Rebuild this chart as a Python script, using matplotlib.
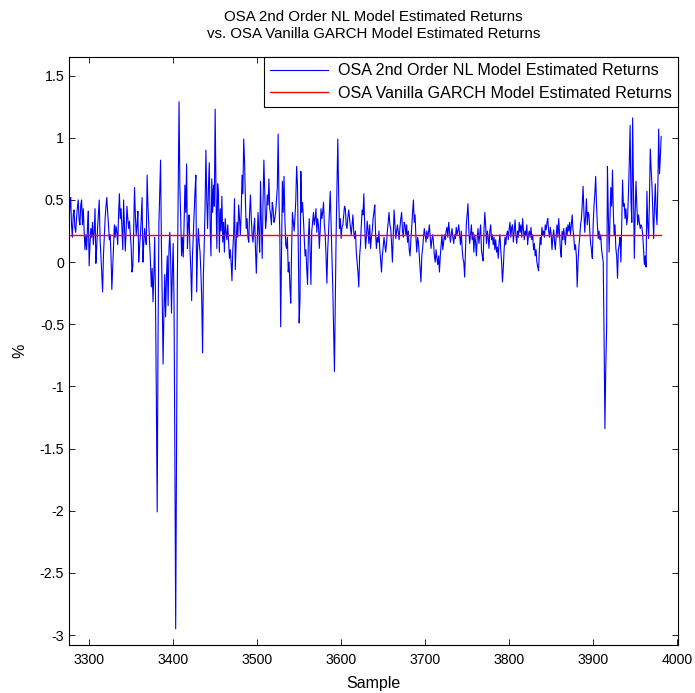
import numpy as np
import matplotlib
matplotlib.use("Agg")
import matplotlib.pyplot as plt

plt.rcParams['font.family'] = ['Liberation Sans', 'DejaVu Sans']
plt.rcParams['axes.unicode_minus'] = False

start_sample = 3276
nl_returns = [
    0.30, 0.45, 0.52, 0.30, 0.20, 0.38, 0.42, 0.28, 0.24, 0.36,
    0.44, 0.50, 0.34, 0.30, 0.46, 0.50, 0.30, 0.43, 0.25, 0.10,
    0.22, 0.10, 0.28, 0.41, -0.03, 0.15, 0.27, 0.20, 0.32, 0.14,
    0.25, 0.43, -0.01, 0.12, 0.27, 0.38, 0.50, 0.18, 0.05, -0.10,
    -0.24, 0.05, 0.20, 0.35, 0.45, 0.52, 0.40, 0.30, 0.18, 0.22,
    0.05, -0.22, -0.06, 0.12, 0.30, 0.20, 0.29, 0.24, 0.14, 0.38,
    0.55, 0.35, 0.43, 0.28, 0.10, 0.50, 0.30, 0.09, 0.25, 0.45,
    0.35, 0.27, 0.33, 0.22, 0.12, -0.08, -0.03, 0.25, 0.60, 0.38,
    0.22, 0.30, 0.41, 0.00, 0.12, 0.22, 0.35, 0.52, 0.00, 0.15,
    0.27, 0.20, 0.14, 0.70, 0.45, 0.30, 0.15, 0.00, -0.20, -0.05,
    -0.32, -0.10, 0.20, -0.30, -1.10, -2.01, -0.60, 0.30, 0.55, 0.82,
    0.15, -0.30, -0.82, -0.40, -0.10, -0.44, -0.13, 0.05, -0.35, 0.10,
    0.24, 0.03, -0.41, -0.10, 0.15, -0.30, -1.50, -2.95, -1.55, -0.15,
    0.55, 1.29, 0.60, 0.35, 0.05, 0.20, 0.04, 0.30, 0.62, 0.40,
    0.79, 0.11, 0.30, 0.38, 0.10, -0.05, -0.31, 0.05, 0.22, 0.40,
    0.57, 0.70, -0.24, 0.10, 0.27, 0.15, 0.08, -0.08, -0.30, -0.73,
    -0.10, 0.14, 0.45, 0.90, 0.50, 0.27, 0.60, 0.80, 0.30, 0.05,
    0.67, 0.40, 0.62, 0.45, 1.23, 0.55, 0.11, 0.63, 0.54, 0.08,
    0.43, 0.25, 0.53, 0.16, 0.32, 0.08, 0.35, 0.24, 0.18, 0.30,
    0.16, 0.03, 0.10, 0.00, -0.15, 0.10, 0.22, 0.51, -0.06, 0.15,
    0.32, 0.20, 0.46, 0.35, 0.22, 0.40, 0.70, 0.55, 0.99, 0.81,
    0.50, 0.27, 0.35, 0.20, 0.16, 0.40, 0.54, 0.35, 0.22, 0.16,
    0.28, 0.35, 0.10, -0.09, 0.15, 0.40, 0.25, 0.08, 0.65, 0.30,
    0.03, 0.48, 0.82, 0.57, 0.27, 0.35, 0.54, 0.46, 0.67, 0.43,
    0.38, 0.30, 0.48, 0.43, 0.32, 0.35, 0.40, 0.50, 0.60, 1.03,
    0.50, 0.22, -0.52, 0.10, 0.65, 0.40, 0.69, 0.35, 0.14, 0.11,
    0.20, -0.08, 0.00, -0.20, -0.33, 0.10, 0.40, 0.32, 0.25, 0.36,
    0.50, 0.77, 0.62, 0.10, -0.49, -0.30, 0.73, 0.40, 0.48, 0.36,
    0.20, 0.05, 0.10, -0.05, -0.18, 0.20, 0.35, 0.10, -0.18, 0.25,
    0.32, 0.40, 0.30, 0.35, 0.43, 0.24, 0.35, 0.30, 0.11, 0.25,
    0.43, 0.35, 0.40, 0.48, 0.30, 0.22, 0.05, -0.17, 0.10, 0.24,
    0.40, 0.57, 0.30, 0.05, -0.20, -0.55, -0.88, -0.30, 0.22, 0.60,
    0.99, 0.55, 0.27, 0.35, 0.19, 0.28, 0.30, 0.38, 0.45, 0.43,
    0.30, 0.27, 0.36, 0.42, 0.35, 0.28, 0.22, 0.30, 0.38, 0.24,
    0.19, 0.25, 0.08, 0.00, -0.08, -0.20, 0.05, 0.14, 0.30, 0.42,
    0.38, 0.55, 0.30, 0.11, 0.20, 0.33, 0.26, 0.15, 0.30, 0.11,
    0.20, 0.25, 0.35, 0.40, 0.46, 0.22, 0.11, 0.20, 0.16, 0.25,
    0.10, 0.02, -0.08, 0.05, 0.12, 0.20, 0.14, 0.08, 0.15, 0.25,
    0.32, 0.40, 0.30, 0.27, 0.15, 0.00, 0.20, 0.42, 0.30, 0.19,
    0.25, 0.30, 0.24, 0.18, 0.28, 0.35, 0.40, 0.25, 0.20, 0.32,
    0.30, 0.22, 0.30, 0.16, 0.25, 0.10, 0.05, 0.18, 0.28, 0.40,
    0.50, 0.32, 0.38, 0.20, 0.08, 0.20, 0.16, 0.05, -0.05, -0.16,
    0.05, 0.11, 0.20, 0.27, 0.22, 0.16, 0.25, 0.19, 0.24, 0.30,
    0.20, 0.11, 0.18, 0.22, 0.15, 0.05, 0.00, 0.10, 0.03, -0.02,
    0.05, -0.08, 0.05, 0.14, 0.22, 0.10, 0.16, 0.22, 0.18, 0.25,
    0.28, 0.20, 0.32, 0.25, 0.16, 0.22, 0.27, 0.20, 0.15, 0.22,
    0.19, 0.28, 0.22, 0.25, 0.30, 0.22, 0.14, 0.25, 0.11, 0.03,
    0.00, -0.12, 0.10, 0.30, 0.38, 0.47, 0.25, 0.15, 0.22, 0.30,
    0.18, 0.24, 0.08, 0.22, 0.16, 0.05, 0.20, 0.27, 0.15, 0.22,
    0.30, 0.10, 0.05, 0.01, 0.25, 0.40, 0.30, 0.15, 0.25, 0.20,
    0.11, 0.25, 0.30, 0.18, 0.22, 0.14, 0.20, 0.10, 0.18, 0.08,
    0.12, 0.03, 0.16, 0.22, 0.10, 0.00, -0.16, -0.05, 0.10, 0.20,
    0.14, 0.22, 0.25, 0.18, 0.27, 0.32, 0.20, 0.28, 0.30, 0.16,
    0.25, 0.34, 0.22, 0.15, 0.25, 0.20, 0.32, 0.24, 0.30, 0.20,
    0.35, 0.27, 0.18, 0.25, 0.22, 0.30, 0.14, 0.22, 0.25, 0.20,
    0.28, 0.18, 0.22, 0.10, 0.15, 0.05, 0.10, 0.00, -0.04, -0.07,
    0.10, 0.20, 0.14, 0.28, 0.22, 0.25, 0.20, 0.30, 0.26, 0.32,
    0.35, 0.25, 0.20, 0.28, 0.22, 0.10, 0.20, 0.26, 0.16, 0.10,
    0.22, 0.30, 0.20, 0.35, 0.22, 0.10, 0.04, 0.25, 0.18, 0.27,
    0.20, 0.14, 0.28, 0.22, 0.30, 0.25, 0.32, 0.22, 0.30, 0.38,
    0.26, 0.20, 0.10, 0.14, 0.05, -0.20, 0.00, 0.12, 0.20, 0.30,
    0.35, 0.46, 0.61, 0.40, 0.24, 0.38, 0.51, 0.30, 0.40, 0.38,
    0.25, 0.15, 0.10, 0.03, 0.30, 0.45, 0.55, 0.69, 0.46, 0.30,
    0.19, 0.25, 0.18, 0.22, 0.10, 0.05, 0.00, -0.60, -1.34, -0.85,
    -0.55, 0.77, 0.40, 0.08, 0.35, 0.60, 0.45, 0.74, 0.40, 0.22,
    0.30, 0.11, 0.05, -0.13, 0.10, 0.14, 0.20, 0.00, 0.30, 0.66,
    0.45, 0.47, 0.35, 0.43, 0.30, 0.36, 0.55, 0.80, 1.10, 0.50,
    0.32, 1.16, 0.60, 0.03, 0.40, 0.65, 0.45, 0.30, 0.38, 0.32,
    0.27, 0.30, 0.28, 0.22, 0.10, -0.02, 0.05, -0.04, 0.57, 0.30,
    0.19, 0.50, 0.91, 0.75, 0.62, 0.40, 0.19, 0.45, 0.63, 0.40,
    0.30, 0.60, 1.07, 0.71, 0.85, 1.01,
]
garch_return = 0.217

x_ticks = [3300, 3400, 3500, 3600, 3700, 3800, 3900, 4000]
y_ticks = [-3, -2.5, -2, -1.5, -1, -0.5, 0, 0.5, 1, 1.5]
y_tick_labels = ['-3', '-2.5', '-2', '-1.5', '-1', '-0.5', '0', '0.5', '1', '1.5']

samples = np.arange(start_sample, start_sample + len(nl_returns))
garch = np.full(len(nl_returns), garch_return)

fig = plt.figure(figsize=(6.95, 6.93), dpi=100)
ax = fig.add_axes([69/695, 1 - 645/693, (678 - 69)/695, (645 - 57)/693])

ax.plot(samples, nl_returns, color=(0, 0, 1), lw=0.8,
        label='OSA 2nd Order NL Model Estimated Returns')
ax.plot(samples, garch, color=(1, 0, 0), lw=1.0,
        label='OSA Vanilla GARCH Model Estimated Returns')

ax.set_xlim(3276, 4001)
ax.set_ylim(-3.08, 1.65)
ax.set_xticks(x_ticks)
ax.set_yticks(y_ticks)
ax.set_yticklabels(y_tick_labels)
ax.tick_params(direction='in', top=True, right=True, length=4.5, width=0.6,
               labelsize=10.2, colors='black')
ax.tick_params(axis='x', pad=6)
for s in ax.spines.values():
    s.set_linewidth(0.8)

ax.set_xlabel('Sample', fontsize=11.5, labelpad=6)
ax.set_ylabel('%', fontsize=11.5, labelpad=9)
ax.set_title('OSA 2nd Order NL Model Estimated Returns\nvs. OSA Vanilla GARCH Model Estimated Returns',
             fontsize=10.8, pad=14, linespacing=1.25)

leg = ax.legend(loc='upper right', bbox_to_anchor=(1.0, 1.0), borderaxespad=0.0,
                fancybox=False, framealpha=1, edgecolor='black', fontsize=11.6,
                handlelength=3.6, handletextpad=0.6, borderpad=0.4, labelspacing=0.45)
leg.get_frame().set_linewidth(0.8)

fig.savefig('out.png', dpi=100)
